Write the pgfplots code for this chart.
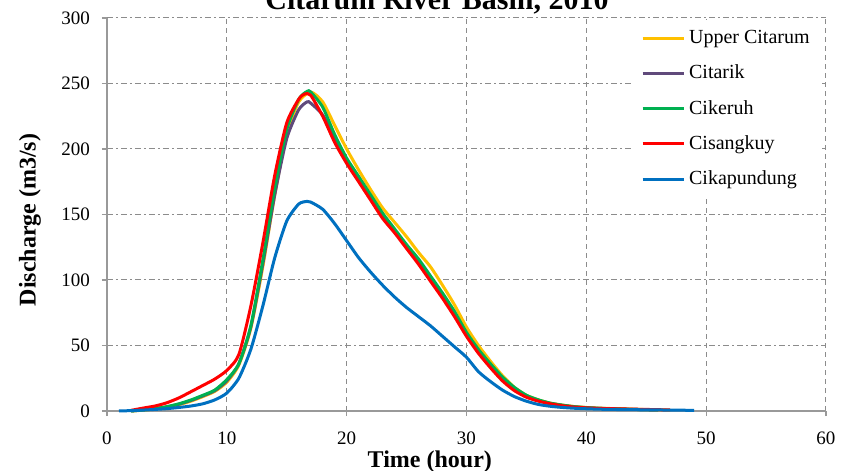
\documentclass[border=0pt]{standalone}
\usepackage{fontspec}
\setmainfont{Liberation Serif}
\usepackage{pgfplots}
\pgfplotsset{compat=1.18}

\definecolor{cUpper}{HTML}{FFC000}
\definecolor{cTarik}{HTML}{604A7B}
\definecolor{cKeruh}{HTML}{00B050}
\definecolor{cSang}{HTML}{FF0000}
\definecolor{cKapu}{HTML}{0070C0}
\definecolor{gridgray}{HTML}{8C8C8C}

\begin{document}
\begin{tikzpicture}
\begin{axis}[
    scale only axis,
    width=359.5pt, height=196.5pt,
    xmin=0, xmax=60, ymin=0, ymax=300,
    xtick={0,10,...,60},
    ytick={0,50,...,300},
    axis x line*=bottom, axis y line*=left,
    axis line style={-, gray!80, line width=0.8pt},
    tick align=outside, major tick length=2.5pt,
    tick style={gray!80, line width=0.6pt},
    grid=major,
    x grid style={gridgray, line width=0.5pt, dash pattern=on 2.5pt off 2pt},
    y grid style={gridgray, line width=0.5pt, dash pattern=on 3pt off 1.5pt on 1pt off 1.5pt},
    tick label style={font=\fontsize{9.5}{11}\selectfont},
    /pgf/number format/assume math mode=true,
    yticklabel style={xshift=-2.5pt},
    xticklabel style={yshift=-4.3pt},
    xlabel={\textbf{Time (hour)}},
    ylabel={\textbf{Discharge (m3/s)}},
    every axis x label/.style={at={(axis description cs:0.449,-0.128)}, anchor=center,
        font=\fontsize{12}{14}\selectfont},
    every axis y label/.style={at={(axis description cs:-0.107,0.486)}, anchor=center, rotate=90,
        font=\fontsize{12}{14}\selectfont},
    legend style={at={(rel axis cs:0.9945,0.995)}, anchor=north east, draw=none, fill=white,
        font=\fontsize{10}{12}\selectfont, row sep=5.2pt, inner xsep=4pt, inner ysep=3pt},
    legend cell align={left},
    legend image code/.code={\draw[#1] (0pt,0pt) -- (20.5pt,0pt);},
    every axis plot/.append style={line width=1.5pt, smooth, tension=0.4},
    clip=false,
]
\addplot[cUpper] coordinates {
(2,0) (3,0.6) (4,1.5) (5,2.8) (6,4.8) (7,7.5) (8,11) (9,15) (10,22) (11,35) (12,63) (13,110)
(14,165) (15,212) (16,236) (17,243.5) (18,236) (19,218) (20,200) (21,184) (22,169) (23,155)
(24,144) (25,133) (26,121) (27,110) (28,96) (29,81) (30,64) (31,50) (32,38) (33,27) (34,18)
(35,12) (36,8.5) (37,6) (38,4.5) (39,3.4) (40,2.7) (41,2.2) (42,1.9) (43,1.6) (44,1.3)
(45,1.1) (46,0.9) (47,0.7)
};
\addlegendentry{Upper Citarum}
\addplot[cTarik] coordinates {
(2,0) (3,0.8) (4,1.8) (5,3.2) (6,5.2) (7,8) (8,11.5) (9,15.5) (10,23) (11,36) (12,64) (13,112)
(14,165) (15,208) (16,230) (16.7,236) (17,235) (18,226) (19,208) (20,191) (21,177) (22,163)
(23,149) (24,137) (25,125) (26,114) (27,101) (28,88) (29,74) (30,58.5) (31,45.5) (32,34.5)
(33,24.5) (34,16.5) (35,11) (36,8) (37,5.7) (38,4.2) (39,3.1) (40,2.5) (41,2) (42,1.7)
(43,1.4) (44,1.2) (45,1) (46,0.8)
};
\addlegendentry{Citarik}
\addplot[cKeruh] coordinates {
(2,0) (3,0.8) (4,1.8) (5,3.3) (6,5.5) (7,8.4) (8,12) (9,16) (10,24) (11,36) (12,65) (13,115)
(14,170) (15,215) (16,238) (16.7,244) (17,243.5) (18,232) (19,211) (20,193) (21,179) (22,165)
(23,151) (24,139) (25,127) (26,116) (27,103) (28,90) (29,76) (30,60) (31,47) (32,36) (33,26)
(34,18) (35,12) (36,8.5) (37,6) (38,4.5) (39,3.3) (40,2.6) (41,2.1) (42,1.8) (43,1.5)
(44,1.2) (45,1) (46,0.8)
};
\addlegendentry{Cikeruh}
\addplot[cSang] coordinates {
(2,0.5) (3,2.2) (4,3.8) (5,6.3) (6,10) (7,14.7) (8,19.5) (9,24.4) (10,31) (11,43) (12,80)
(13,128) (14,180) (15,220) (16,238) (16.5,242) (17,241) (18,225) (19,205) (20,189) (21,175)
(22,161) (23,147) (24,136) (25,124) (26,112) (27,99) (28,86) (29,72) (30,57) (31,44) (32,33)
(33,23) (34,15.5) (35,10.5) (36,7.5) (37,5.5) (38,4) (39,3) (40,2.4) (41,2) (42,1.8)
(43,1.6) (44,1.4) (45,1.2) (46,1) (47,0.8)
};
\addlegendentry{Cisangkuy}
\addplot[cKapu] coordinates {
(1,0) (2,0.3) (3,0.7) (4,1.2) (5,1.8) (6,2.7) (7,3.8) (8,5.5) (9,8.5) (10,13.7) (11,25) (12,47)
(13,80) (14,117) (15,145) (16,158) (16.7,160) (17,159.5) (18,154) (19,143) (20,130) (21,117)
(22,106) (23,96) (24,87) (25,79) (26,72) (27,65) (28,57) (29,49) (30,41) (31,30) (32,22.5)
(33,16) (34,11) (35,7.5) (36,5) (37,3.6) (38,2.7) (39,2.1) (40,1.7) (41,1.4) (42,1.2)
(43,1.1) (44,1) (45,0.9) (46,0.8) (47,0.7) (48,0.6) (49,0.5)
};
\addlegendentry{Cikapundung}

\node[font=\fontsize{15}{18}\selectfont\bfseries, anchor=base] at (axis description cs:0.459,1.0216) {Citarum River Basin, 2010};
\coordinate (bbSW) at (axis cs:-8.929,-45.04);
\coordinate (bbNE) at (axis cs:61.419,313.74);
\end{axis}
\pgfresetboundingbox
\path[use as bounding box] (bbSW) rectangle (bbNE);
\end{tikzpicture}
\end{document}
